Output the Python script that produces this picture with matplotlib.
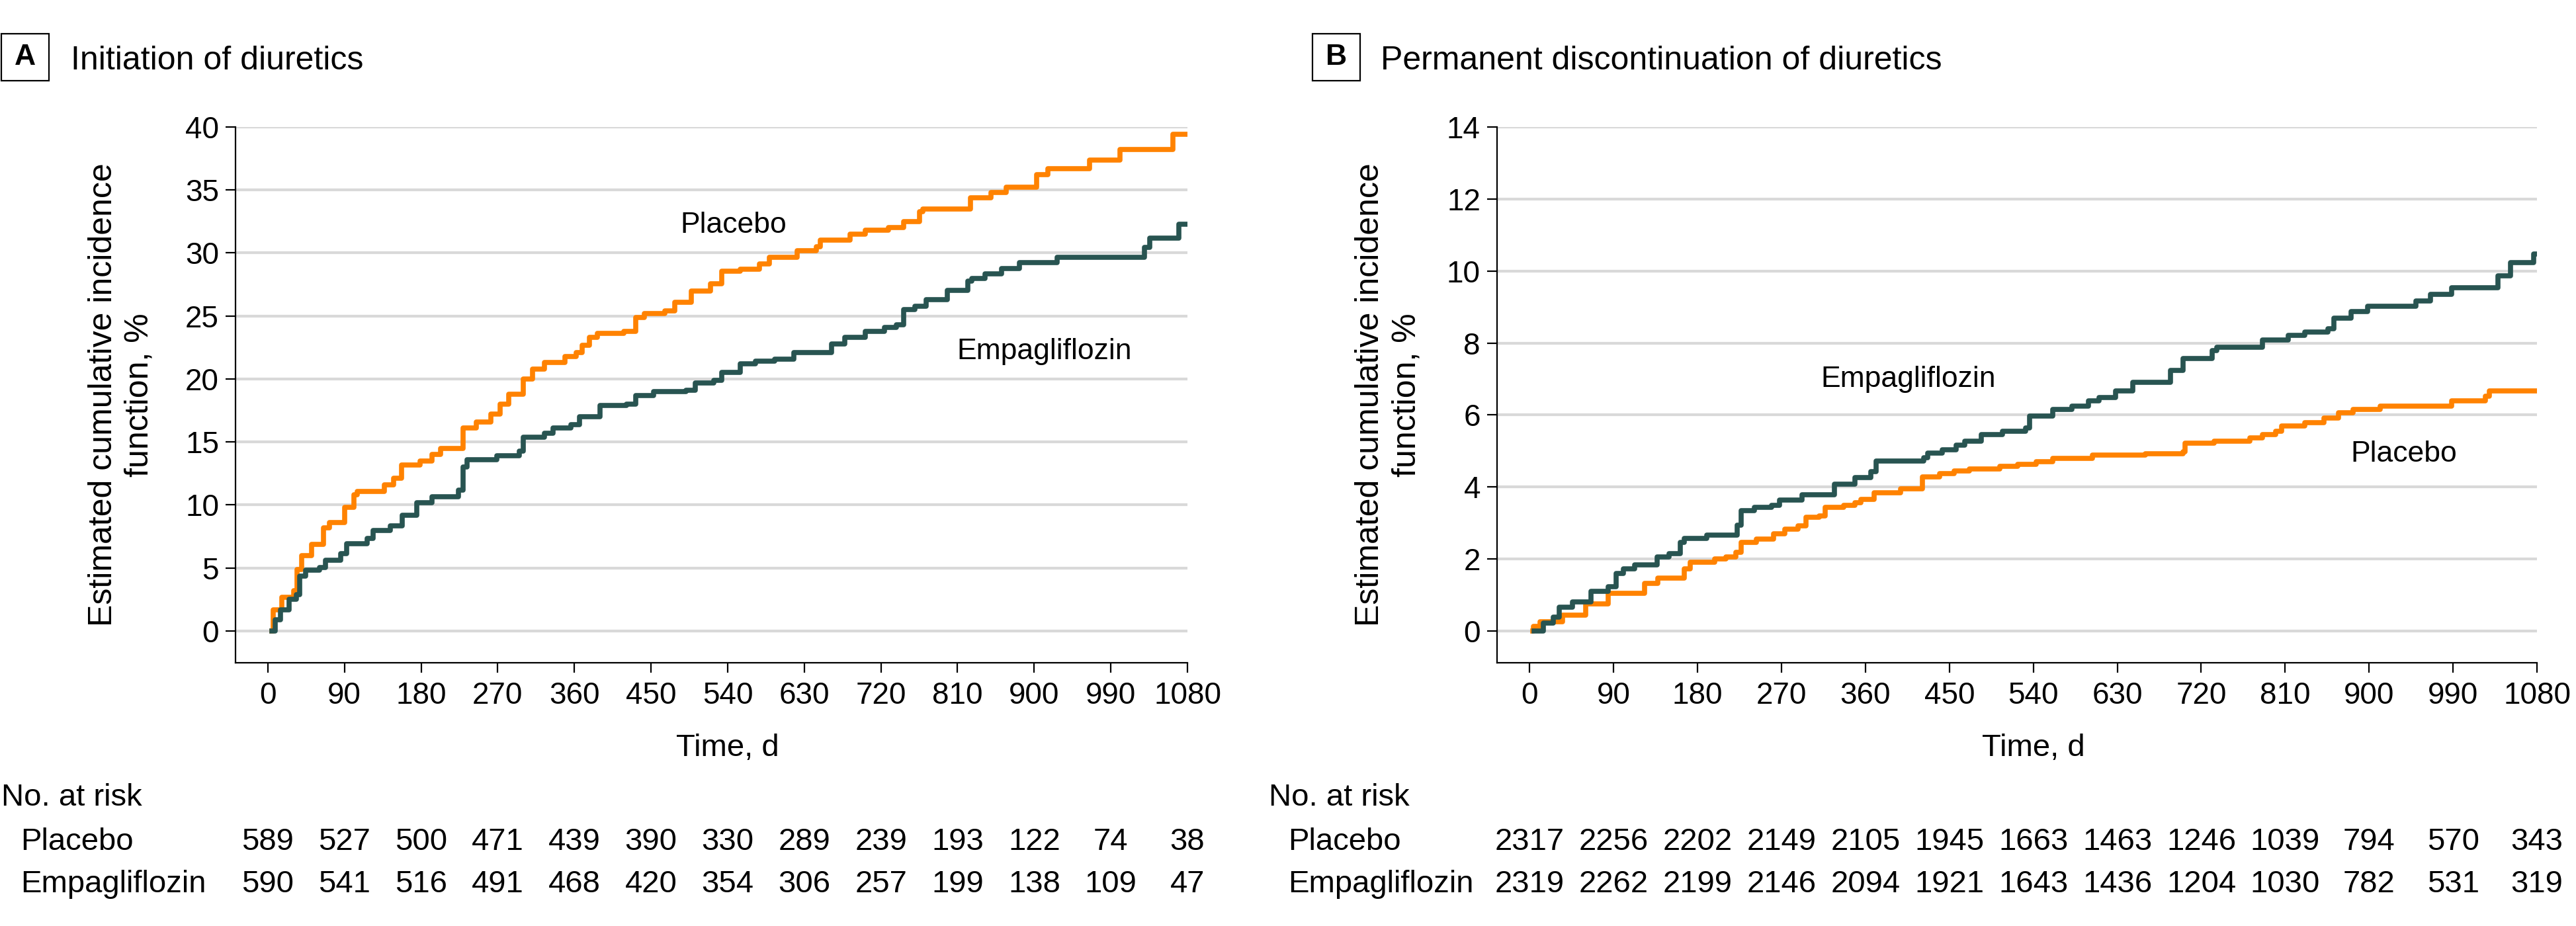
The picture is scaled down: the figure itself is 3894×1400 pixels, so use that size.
import matplotlib
matplotlib.use("Agg")
import matplotlib.pyplot as plt
from matplotlib import transforms
from matplotlib.patches import Rectangle

plt.rcParams["font.family"] = ["Liberation Sans", "DejaVu Sans"]

# =====================================================
# DATA
# =====================================================
TIME_TICKS = [0, 90, 180, 270, 360, 450, 540, 630, 720, 810, 900, 990, 1080]

# Panel A - initiation of diuretics (step points: time, cumulative %)
A_PLA_T = [5, 6, 16, 30, 34, 40, 51, 65, 72, 90, 101, 105, 137, 148, 157, 179,
           193, 203, 229, 245, 262, 273, 283, 300, 311, 325, 349, 362, 369, 378,
           387, 418, 432, 442, 466, 478, 497, 520, 533, 555, 577, 589, 622, 644,
           649, 684, 702, 729, 747, 765, 769, 825, 849, 867, 903, 916, 965, 1001,
           1063, 1080]
A_PLA_V = [0, 1.7, 2.7, 3.2, 4.9, 6.0, 6.9, 8.2, 8.6, 9.8, 10.8, 11.1, 11.6, 12.1,
           13.2, 13.5, 14.0, 14.5, 16.1, 16.6, 17.2, 18.0, 18.8, 20.0, 20.8, 21.3,
           21.8, 22.1, 22.7, 23.3, 23.6, 23.8, 24.9, 25.2, 25.4, 26.1, 27.0, 27.55,
           28.56, 28.7, 29.16, 29.66, 30.2, 30.5, 31.0, 31.5, 31.8, 32.0, 32.5, 33.3,
           33.5, 34.4, 34.8, 35.2, 36.2, 36.7, 37.4, 38.2, 39.4, 39.4]

A_EMP_T = [5, 9, 14.5, 25, 33.5, 37, 44, 61, 68, 85.5, 92.4, 116.5, 123.4, 144,
           158, 175, 193, 224, 229, 234, 269, 295, 300, 324.5, 335, 356, 366, 390,
           421, 432, 453, 491, 501.7, 524, 533, 555, 573, 595, 617.5, 662, 677.6,
           702, 724, 738, 746.6, 760, 773, 798, 822, 827, 842, 862, 882.5, 927,
           1029.5, 1036, 1070, 1080]
A_EMP_V = [0, 0.9, 1.7, 2.5, 2.9, 4.35, 4.85, 5.05, 5.64, 6.14, 6.95, 7.36, 7.96,
           8.36, 9.17, 10.17, 10.67, 11.2, 13.0, 13.6, 13.9, 14.3, 15.4, 15.7, 16.1,
           16.4, 17.0, 17.9, 18.0, 18.7, 19.0, 19.1, 19.7, 19.9, 20.5, 21.2, 21.4,
           21.6, 22.1, 22.8, 23.3, 23.8, 24.1, 24.3, 25.5, 25.8, 26.3, 27.05, 27.75,
           28.0, 28.36, 28.76, 29.26, 29.66, 30.47, 31.17, 32.27, 32.27]

A_RISK_PLA = [589, 527, 500, 471, 439, 390, 330, 289, 239, 193, 122, 74, 38]
A_RISK_EMP = [590, 541, 516, 491, 468, 420, 354, 306, 257, 199, 138, 109, 47]

# Panel B - permanent discontinuation of diuretics
B_PLA_T = [3, 4, 11, 35.4, 59.8, 84.3, 123, 137.3, 165.7, 171.9, 198.4, 210.6,
           220.8, 226.9, 243.2, 261.5, 273.8, 288, 296.2, 310.4, 316.5, 336.9, 349,
           355.2, 369.5, 398, 421.4, 439.5, 455, 471.3, 504, 523, 543, 561, 603.6,
           660, 700.5, 702.8, 734, 772.5, 786, 799.5, 806, 831, 851.3, 866.9, 882.8,
           912, 988.5, 1024.5, 1029, 1080]
B_PLA_V = [0, 0.13, 0.25, 0.44, 0.75, 1.05, 1.33, 1.48, 1.73, 1.91, 2.0, 2.06, 2.18,
           2.46, 2.55, 2.71, 2.83, 2.92, 3.17, 3.2, 3.44, 3.5, 3.56, 3.65, 3.84, 3.96,
           4.28, 4.38, 4.45, 4.51, 4.57, 4.63, 4.70, 4.80, 4.89, 4.93, 4.98, 5.22,
           5.27, 5.36, 5.45, 5.55, 5.69, 5.78, 5.91, 6.07, 6.16, 6.25, 6.39, 6.53,
           6.67, 6.67]

B_EMP_T = [5, 15, 25, 31.4, 45.6, 66, 84.3, 92.5, 100.6, 112.8, 137, 149.4, 161.7,
           165.7, 190, 222.8, 226.9, 241, 259.4, 267.6, 292, 326.7, 349, 365.4,
           371.5, 422.5, 426.5, 442, 457.4, 466.5, 484.5, 507, 531.7, 536.2, 561,
           581.3, 599.2, 610.5, 628.5, 646.5, 687, 700.5, 732, 736.5, 786, 813, 831,
           855.8, 862.5, 880.5, 898.5, 950.3, 966, 988.5, 1038, 1051.5, 1076.3, 1080]
B_EMP_V = [0, 0.23, 0.38, 0.66, 0.81, 1.11, 1.24, 1.6, 1.72, 1.84, 2.06, 2.15, 2.46,
           2.58, 2.67, 2.95, 3.35, 3.44, 3.50, 3.63, 3.78, 4.08, 4.27, 4.42, 4.73,
           4.82, 4.94, 5.03, 5.17, 5.27, 5.45, 5.55, 5.64, 5.97, 6.16, 6.25, 6.39,
           6.48, 6.67, 6.91, 7.24, 7.57, 7.80, 7.89, 8.08, 8.22, 8.31, 8.40, 8.69,
           8.88, 9.02, 9.16, 9.35, 9.54, 9.87, 10.24, 10.47, 10.47]

B_RISK_PLA = [2317, 2256, 2202, 2149, 2105, 1945, 1663, 1463, 1246, 1039, 794, 570, 343]
B_RISK_EMP = [2319, 2262, 2199, 2146, 2094, 1921, 1643, 1436, 1204, 1030, 782, 531, 319]

# =====================================================
# STYLE / LAYOUT (pixels of the 3894 x 1400 canvas)
# =====================================================
W, H = 3894, 1400
ORANGE = "#FF8200"
TEAL = "#285451"
GRID = "#D9D9D9"


def fx(px):
    return px / W


def fy(py):
    return 1 - py / H


def draw_panel(fig, box_x, title_x, ax_left, ax_right, xlim_lo, ylim, yticks,
               letter, title, pla_t, pla_v, emp_t, emp_v, risk_pla, risk_emp,
               table_x, label_coord, pla_lab, emp_lab):
    # ----- panel letter + title -----
    fig.patches.append(Rectangle((fx(box_x), fy(122)), fx(72), 71 / H,
                                 transform=fig.transFigure, fill=False,
                                 edgecolor="black", linewidth=1.6))
    fig.text(fx(box_x + 36), fy(86.5), letter, fontsize=32, fontweight="bold",
             ha="center", va="center")
    fig.text(fx(title_x), fy(105), title, fontsize=36, ha="left", va="baseline")

    # ----- axes -----
    ax = fig.add_axes([fx(ax_left), fy(1002), fx(ax_right - ax_left), (1002 - 192) / H])
    ax.step(pla_t, pla_v, where="post", color=ORANGE, linewidth=5.5, zorder=3)
    ax.step(emp_t, emp_v, where="post", color=TEAL, linewidth=5.5, zorder=4)

    ax.set_xlim(xlim_lo, 1080)
    ax.set_ylim(*ylim)
    ax.set_xticks(TIME_TICKS)
    ax.set_yticks(yticks)
    ax.grid(axis="y", color=GRID, linewidth=3, zorder=0)
    ax.set_axisbelow(True)
    for side in ("top", "right"):
        ax.spines[side].set_visible(False)
    for side in ("left", "bottom"):
        ax.spines[side].set_linewidth(1.6)
    ax.tick_params(axis="both", labelsize=33, length=11, width=1.6)
    ax.tick_params(axis="x", pad=9)
    ax.tick_params(axis="y", pad=7)

    ax.set_ylabel("Estimated cumulative incidence\nfunction, %", fontsize=36,
                  linespacing=1.25)
    ax.yaxis.set_label_coords(label_coord, 0.5)

    # ----- curve labels -----
    ax.text(pla_lab[0], pla_lab[1], "Placebo", fontsize=32, ha="left", va="baseline")
    ax.text(emp_lab[0], emp_lab[1], "Empagliflozin", fontsize=32, ha="left",
            va="baseline")

    # ----- x label + number at risk -----
    tr = transforms.blended_transform_factory(ax.transData, fig.transFigure)
    ax.text(540, fy(1143), "Time, d", fontsize=34, ha="center", va="baseline",
            transform=tr)
    fig.text(fx(table_x), fy(1218), "No. at risk", fontsize=34, va="baseline")
    fig.text(fx(table_x + 29), fy(1285), "Placebo", fontsize=34, va="baseline")
    fig.text(fx(table_x + 29), fy(1349), "Empagliflozin", fontsize=34, va="baseline")
    for t, n1, n2 in zip(TIME_TICKS, risk_pla, risk_emp):
        ax.text(t, fy(1285), str(n1), fontsize=34, ha="center", va="baseline",
                transform=tr, clip_on=False)
        ax.text(t, fy(1349), str(n2), fontsize=34, ha="center", va="baseline",
                transform=tr, clip_on=False)
    return ax


def main():
    fig = plt.figure(figsize=(W / 100, H / 100), dpi=100)

    draw_panel(fig, box_x=2, title_x=107, ax_left=356, ax_right=1795,
               xlim_lo=-38, ylim=(-2.52, 40), yticks=range(0, 41, 5),
               letter="A", title="Initiation of diuretics",
               pla_t=A_PLA_T, pla_v=A_PLA_V, emp_t=A_EMP_T, emp_v=A_EMP_V,
               risk_pla=A_RISK_PLA, risk_emp=A_RISK_EMP, table_x=2,
               label_coord=-0.085, pla_lab=(484, 31.6), emp_lab=(809, 21.6))

    draw_panel(fig, box_x=1984, title_x=2087, ax_left=2263, ax_right=3835,
               xlim_lo=-35, ylim=(-0.88, 14), yticks=range(0, 15, 2),
               letter="B", title="Permanent discontinuation of diuretics",
               pla_t=B_PLA_T, pla_v=B_PLA_V, emp_t=B_EMP_T, emp_v=B_EMP_V,
               risk_pla=B_RISK_PLA, risk_emp=B_RISK_EMP, table_x=1918,
               label_coord=-0.0725, pla_lab=(880, 4.70), emp_lab=(312, 6.78))

    fig.savefig("out.png", dpi=100)
    plt.close(fig)


if __name__ == "__main__":
    main()
